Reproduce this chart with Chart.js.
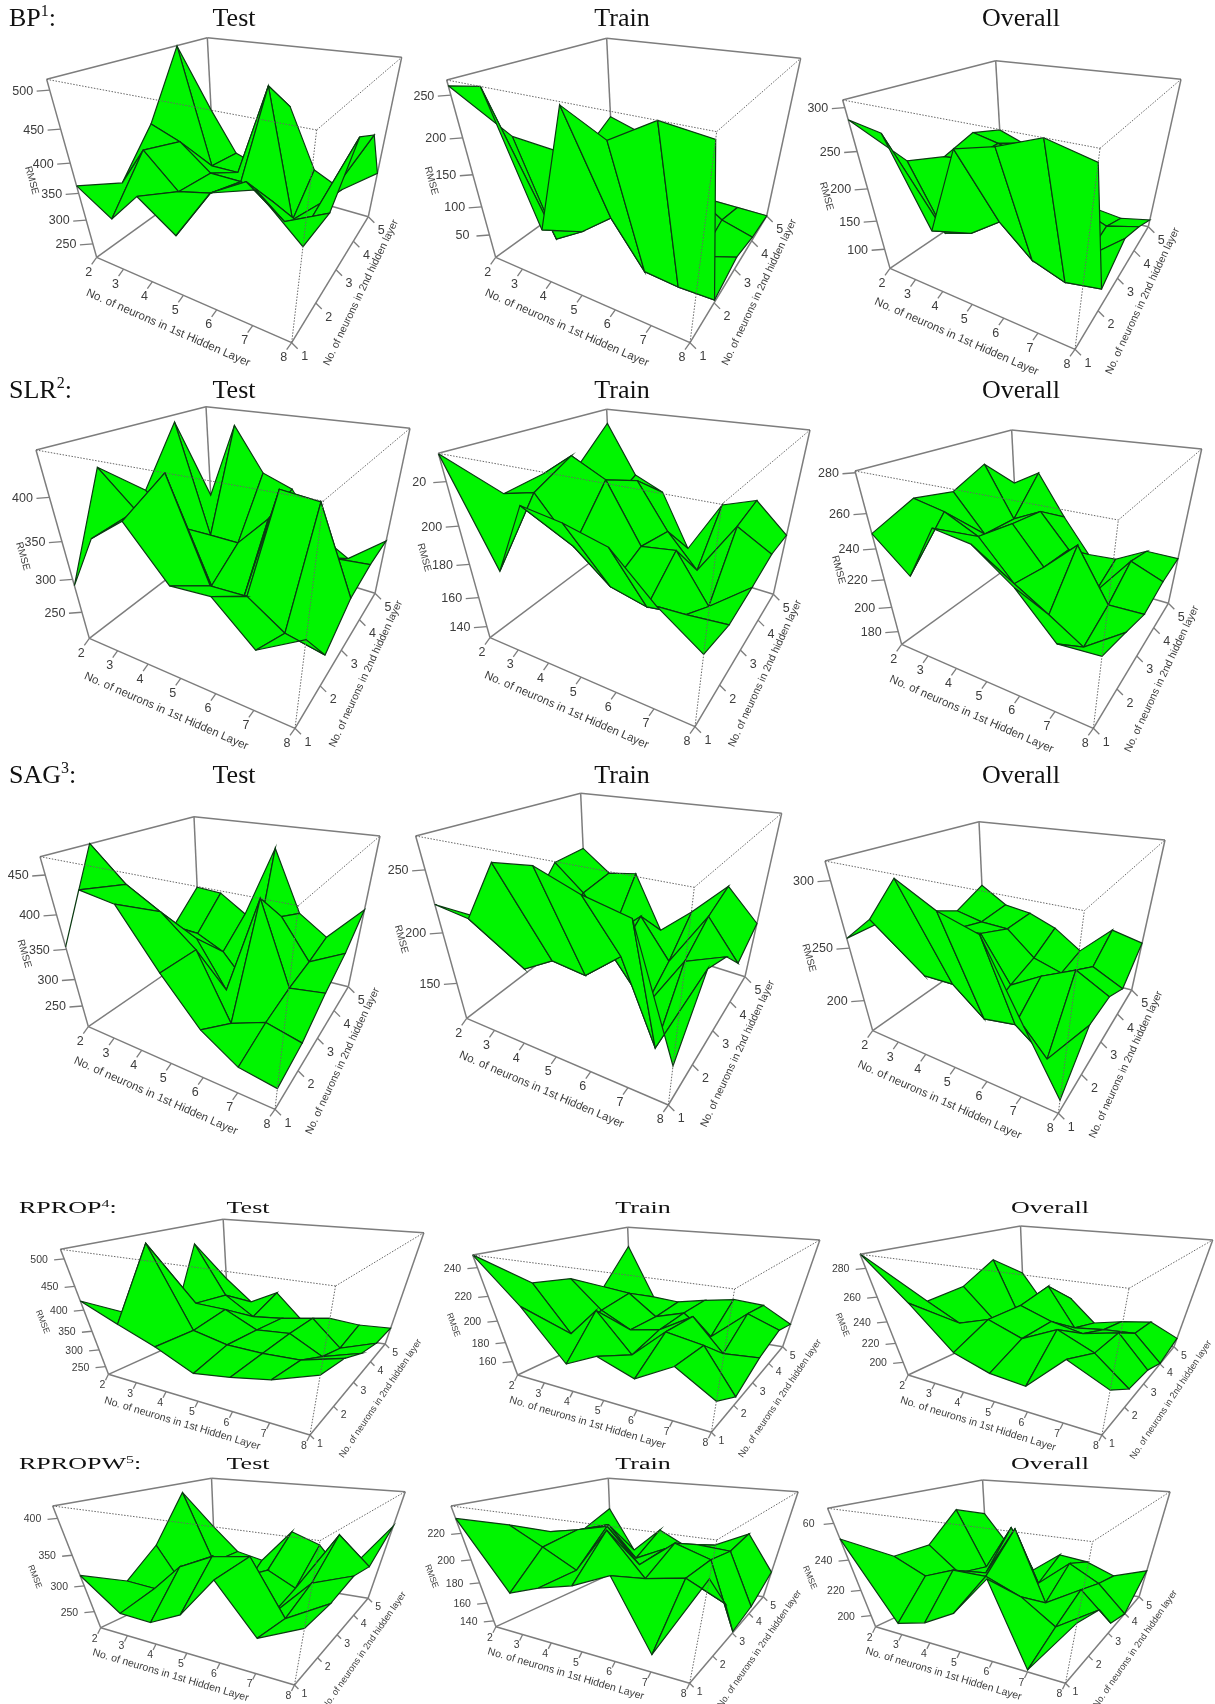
<!doctype html>
<html><head><meta charset="utf-8">
<style>
html,body{margin:0;background:#fff}
#page{position:relative;width:1215px;height:1704px;overflow:hidden}
canvas{position:absolute;filter:blur(.3px)}
.h{position:absolute;font-family:"Liberation Serif",serif;font-size:26px;color:#111;line-height:1;white-space:nowrap}
.h sup{font-size:16px;line-height:0}
</style>
<script src="https://cdn.jsdelivr.net/npm/chart.js@4/dist/chart.umd.min.js"></script>
</head><body><div id="page"></div>
<script>
const neurons1st = [2,3,4,5,6,7,8];
const neurons2nd = [1,2,3,4,5];
const groups = ["BP","SLR","SAG","RPROP","RPROPW"];
const plotNames = ["Test","Train","Overall"];

// RMSE, one row per neurons2nd, one column per neurons1st
const bpTest = [[363,323,380,336,419,439,386],[327,401,345,360,395,350,383],[403,383,338,338,317,285,451],[512,297,298,470,225,291,424],[375,287,269,412,294,265,319]];
const bpTrain = [[260,266,99,263,239,266,260],[176,11,47,91,14,9,11],[125,109,99,103,84,8,30],[93,73,60,88,65,29,13],[131,115,113,105,6,6,6]];
const bpOverall = [[287,280,168,281,292,308,297],[213,105,122,158,111,92,103],[194,199,209,209,170,85,137],[211,201,188,169,117,96,111],[194,177,179,163,74,66,77]];
const slrTest = [[291,365,394,337,340,294,327],[413,371,421,298,300,266,255],[364,322,239,224,400,395,289],[437,275,275,327,353,293,298],[305,425,362,346,282,254,299]];
const slrTrain = [[231,182,217,214,209,190,175],[206,210,187,170,165,168,170],[208,220,211,179,182,154,173],[205,183,202,175,154,188,177],[223,193,185,148,185,192,175]];
const slrOverall = [[249,229,261,258,242,218,220],[259,255,245,221,207,192,212],[254,229,241,216,237,202,203],[264,228,238,214,185,217,208],[242,253,222,194,196,209,209]];
const sagTest = [[354,441,434,361,295,256,247],[471,427,400,358,251,275,261],[352,340,329,246,413,286,295],[296,293,268,206,359,291,321],[348,345,313,437,335,300,362]];
const sagTrain = [[224,220,265,268,257,250,151],[190,148,168,164,193,111,203],[174,160,164,153,109,173,188],[214,187,145,177,134,194,155],[215,192,198,136,169,205,174]];
const sagOverall = [[258,279,310,296,288,234,180],[259,212,213,187,193,168,217],[251,239,242,197,216,231,215],[236,230,229,204,195,211,196],[250,233,229,218,198,229,222]];
const rpropTest = [[420,384,350,306,321,341,376],[354,516,346,327,325,329,355],[287,364,361,321,328,282,312],[475,354,303,312,326,251,285],[364,301,340,264,283,275,279]];
const rpropTrain = [[248,217,174,189,177,196,176],[221,180,207,172,200,195,154],[216,190,175,181,199,169,172],[199,196,175,184,163,193,182],[231,181,179,185,190,188,172]];
const rpropOverall = [[289,260,226,215,212,243,228],[246,231,240,229,243,230,205],[249,220,240,230,224,231,201],[265,202,247,208,212,214,186],[244,209,223,198,205,210,196]];
const rpropwTest = [[318,262,260,290,355,283,316],[281,278,328,353,362,276,316],[326,236,323,295,231,305,328],[401,279,214,280,251,361,316],[326,278,266,334,315,260,363]];
const rpropwTrain = [[230,177,188,196,209,152,218],[218,204,189,224,193,199,185],[204,209,215,186,209,200,135],[197,205,175,189,197,195,142],[210,168,194,180,185,200,164]];
const rpropwOverall = [[252,200,207,220,245,192,232],[234,224,232,232,223,207,225],[234,216,220,252,205,220,199],[252,211,244,204,224,212,190],[244,220,201,218,215,206,214]];
const surfaces = [bpTest,bpTrain,bpOverall,slrTest,slrTrain,slrOverall,sagTest,sagTrain,sagOverall,rpropTest,rpropTrain,rpropOverall,rpropwTest,rpropwTrain,rpropwOverall];

const zLimits = [[219.5,512.6],[5.5,266],[62,308],[205,446],[131.7,231.2],[168.7,280.8],[206.4,470.6],[108.5,272.6],[165.5,312.3],[225.3,516],[144.2,247.9],[185.2,288.7],[214.3,414.6],[133,237.8],[190.2,267.1]];
const zTicks = [[250,300,350,400,450,500],[50,100,150,200,250],[100,150,200,250,300],[250,300,350,400],[140,160,180,200,220],[180,200,220,240,260,280],[250,300,350,400,450],[150,200,250],[200,250,300],[250,300,350,400,450,500],[160,180,200,220,240],[200,220,240,260,280],[250,300,350,400],[140,160,180,200,220],[200,220,240,260]];
// top label loses its first digit under the neighbouring plot in the source
const cutLabels = {4:1, 14:1};

// camera: origin, scale, then box corners A B C D and the four corners above them
const boxes = [
[0,0,3,3,[290,772],[875,1028],[1105,650],[643,518],[140,238],[950,390],[1205,172],[622,113]],
[405,0,3,3,[272,772],[855,1028],[1085,648],[625,518],[125,240],[935,395],[1187,175],[605,115]],
[805,0,3,3,[255,805],[810,1048],[1030,680],[595,575],[113,300],[885,445],[1128,238],[572,182]],
[0,375,3,3,[268,790],[885,1060],[1125,655],[640,505],[108,225],[970,378],[1230,160],[618,95]],
[405,375,3,3,[255,788],[870,1055],[1105,658],[625,510],[100,235],[950,388],[1215,165],[605,103]],
[805,375,3,3,[290,808],[865,1060],[1090,685],[640,555],[150,288],[940,435],[1190,222],[620,165]],
[0,760,3,3,[265,800],[825,1048],[1045,680],[600,570],[120,290],[895,437],[1140,228],[582,170]],
[405,760,3,3,[185,775],[790,1035],[1020,650],[545,500],[32,228],[868,382],[1130,160],[527,100]],
[805,760,3,3,[203,812],[760,1060],[980,690],[540,575],[60,303],[838,452],[1080,240],[522,185]],
[0,1190,1.2905,3,[140,553],[400,735],[497,462],[295,390],[78,178],[433,288],[547,128],[288,88]],
[0,1190,1.2905,3,[668,555],[918,727],[1010,470],[815,395],[610,195],[948,297],[1058,150],[810,112]],
[0,1190,1.2905,3,[1172,555],[1422,735],[1515,470],[1322,392],[1110,193],[1457,295],[1565,150],[1317,108]],
[0,1450,1.2905,3,[130,533],[380,705],[475,445],[278,370],[68,168],[413,272],[523,125],[273,85]],
[0,1450,1.2905,3,[640,530],[890,700],[985,440],[790,370],[582,168],[925,270],[1030,125],[785,85]],
[0,1450,1.2905,3,[1130,530],[1375,700],[1470,440],[1275,372],[1068,175],[1410,275],[1510,125],[1268,90]]
];
const GREEN="#00f500", EDGE="#0b3a12", FRAME="#7d7d7d", DOT="#666";
const CUBE=[[0,0,0],[1,0,0],[1,1,0],[0,1,0],[0,0,1],[1,0,1],[1,1,1],[0,1,1]];

// perspective-correct interpolation between the eight box corners
function project(pts,u,v,w){
  let x=0,y=0,d=0;
  CUBE.forEach((c,k)=>{
    const b=(c[0]?u:1-u)*(c[1]?v:1-v)*(c[2]?w:1-w);
    const W=1-.2*c[0]+.3*c[1]-.3*c[2];
    x+=b*W*pts[k][0]; y+=b*W*pts[k][1]; d+=b*W;
  });
  return {x:x/d,y:y/d};
}

const page=document.getElementById("page");
boxes.forEach((b,i)=>{
  const [ox,oy,sx,sy]=b;
  const real=b.slice(4).map(p=>[ox+p[0]/sx,oy+p[1]/sy]);
  const L=Math.floor(Math.min(...real.map(p=>p[0])))-55, T=Math.floor(Math.min(...real.map(p=>p[1])))-8;
  const W=Math.ceil(Math.max(...real.map(p=>p[0])))-L+60, H=Math.ceil(Math.max(...real.map(p=>p[1])))-T+55;
  const pts=real.map(p=>[p[0]-L,p[1]-T]);
  const [zLo,zHi]=zLimits[i];
  const P=(u,v,w)=>project(pts,u,v,w);
  const node=(c,r)=>P(c/(neurons1st.length-1),r/(neurons2nd.length-1),(surfaces[i][r][c]-zLo)/(zHi-zLo));
  const corner=k=>({x:pts[k][0],y:pts[k][1]});
  const line=(a,b,color,width,dash)=>({data:[a,b],borderColor:color,borderWidth:width,borderDash:dash||[],pointRadius:0,showLine:true,fill:false});
  const under=[], over=[], labels=[];
  const small=i>=9;
  [[0,3],[3,2],[4,7],[7,6],[3,7],[0,1],[1,2],[0,4],[2,6]].forEach(e=>under.push(line(corner(e[0]),corner(e[1]),FRAME,1.5)));
  zTicks[i].forEach((z,k)=>{
    const p=P(0,0,(z-zLo)/(zHi-zLo));
    under.push(line(p,{x:p.x-(small?10:13),y:p.y+1},FRAME,1.3));
    let s=String(z); if(cutLabels[i]&&k===zTicks[i].length-1) s=s.slice(1);
    labels.push([s,p.x-(small?25:27),p.y+1,0,small?10.5:12.5]);
  });
  neurons1st.forEach((x,k)=>{
    const p=P(k/6,0,0);
    under.push(line(p,{x:p.x-(small?3:5),y:p.y+(small?6:7)},FRAME,1.3));
    labels.push([String(x),p.x-(small?6:8),p.y+(small?11:15),0,small?10.5:12.5]);
  });
  neurons2nd.forEach((y,k)=>{
    const p=P(1,k/4,0);
    under.push(line(p,{x:p.x+(small?4:6),y:p.y+(small?4:6)},FRAME,1.3));
    labels.push([String(y),p.x+(small?10:13),p.y+(small?9:14),0,small?10.5:12.5]);
  });
  const ang=(a,c)=>Math.atan2(pts[c][1]-pts[a][1],pts[c][0]-pts[a][0]);
  const mid=(a,c)=>[(pts[a][0]+pts[c][0])/2,(pts[a][1]+pts[c][1])/2];
  let m=mid(0,1); labels.push(["No. of neurons in 1st Hidden Layer",m[0]-(small?27:26),m[1]+(small?19:28),ang(0,1),small?10.5:11.5]);
  m=mid(1,2); labels.push(["No. of neurons in 2nd hidden layer",m[0]+(small?33:31),m[1]+(small?9:13),ang(1,2)-.1,small?9.2:10.5]);
  m=mid(4,0); labels.push(["RMSE",m[0]-(small?42:40),m[1]+(small?10:12),ang(4,0),small?8.5:10]);

  // back to front, the way a perspective surface is painted
  const quads=[];
  for(let r=neurons2nd.length-2;r>=0;r--) for(let c=0;c<neurons1st.length-1;c++){
    const q=[[c,r],[c+1,r],[c+1,r+1],[c,r+1],[c,r]].map(n=>node(n[0],n[1]));
    quads.push({data:q,borderColor:EDGE,backgroundColor:GREEN,borderWidth:1.2,pointRadius:0,showLine:true,fill:"shape"});
  }
  [[4,5],[5,6],[1,5]].forEach(e=>over.push(line(corner(e[0]),corner(e[1]),DOT,1,[1.5,1.5])));

  const canvas=document.createElement("canvas");
  canvas.style.left=L+"px"; canvas.style.top=T+"px"; canvas.style.width=W+"px"; canvas.style.height=H+"px";
  canvas.width=W; canvas.height=H; page.appendChild(canvas);
  const axisText={id:"axisText",afterDraw(chart){
    const ctx=chart.ctx; ctx.save(); ctx.fillStyle="#3c3c3c"; ctx.textAlign="center"; ctx.textBaseline="middle";
    labels.forEach(l=>{ctx.save();ctx.translate(l[1],l[2]);ctx.rotate(l[3]);ctx.font=l[4]+'px "Liberation Sans"';ctx.fillText(l[0],0,0);ctx.restore();});
    ctx.restore();
  }};
  new Chart(canvas,{type:"scatter",data:{datasets:[...under,...quads,...over].reverse()},plugins:[axisText],options:{
    responsive:false,animation:false,devicePixelRatio:1,events:[],
    layout:{padding:0},
    plugins:{legend:{display:false},tooltip:{enabled:false},title:{display:false}},
    scales:{x:{type:"linear",display:false,min:0,max:W},y:{type:"linear",display:false,min:0,max:H,reverse:true}}
  }});
});

function head(html,x,y,centred,squash){
  const d=document.createElement("div"); d.className="h"; d.innerHTML=html;
  d.style.left=x+"px"; d.style.top=(y-13)+"px";
  d.style.transform=(centred?"translateX(-50%) ":"")+(squash?"scaleY("+squash+")":"");
  page.appendChild(d);
}
const rowY=[18,390,775,1208,1464], colX=[[234,622,1021],[234,622,1021],[234,622,1021],[248,643,1050],[248,643,1050]];
groups.forEach((g,r)=>{
  const sq=r<3?0:.66;
  head(g+"<sup>"+(r+1)+"</sup>:",r<3?9:19,rowY[r],false,sq);
  plotNames.forEach((n,c)=>head(n,colX[r][c],rowY[r],true,sq));
});
</script></body></html>
